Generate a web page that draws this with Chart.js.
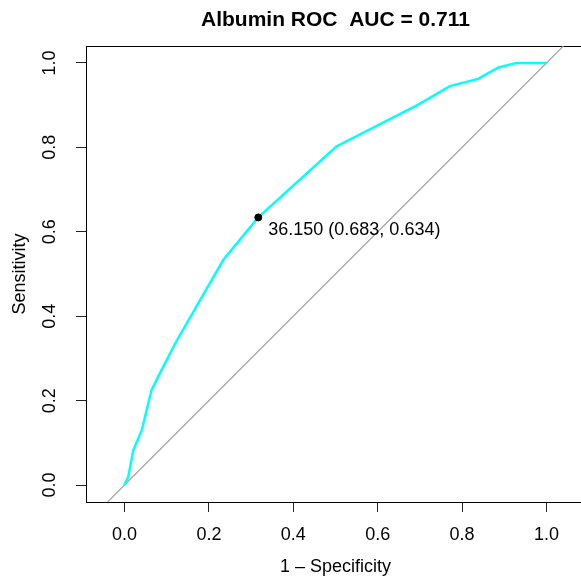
<!DOCTYPE html>
<html>
<head>
<meta charset="utf-8">
<script src="https://cdn.jsdelivr.net/npm/chart.js@4.4.1/dist/chart.umd.min.js"></script>
<style>
  html, body { margin: 0; padding: 0; background: #fff; overflow: hidden; }
  canvas { display: block; }
</style>
</head>
<body>
<!-- plot box runs past the right edge of the window, like the R device -->
<canvas id="roc" width="590" height="580"></canvas>
<script>
// ROC curve: x = 1 - specificity, y = sensitivity
const oneMinusSpec = [0, 0.009, 0.021, 0.041, 0.064, 0.088, 0.122, 0.234, 0.317, 0.502, 0.694, 0.771, 0.838, 0.886, 0.929, 1.0];
const sensitivity  = [0, 0.020, 0.083, 0.130, 0.225, 0.273, 0.339, 0.533, 0.634, 0.802, 0.900, 0.945, 0.962, 0.989, 1.0, 1.0];

// best threshold
const bestThreshold = 36.150;
const bestSpec = 0.683;
const bestSens = 0.634;

const auc = 0.711;
const diagonal = [-0.04, 1.04];
const xTicks = [0, 0.2, 0.4, 0.6, 0.8, 1.0];
const yTicks = [0, 0.2, 0.4, 0.6, 0.8, 1.0];

const FONT = '"Liberation Sans", Arial, Helvetica, sans-serif';

const rocPoints = oneMinusSpec.map((x, i) => ({ x: x, y: sensitivity[i] }));

const textPlugin = {
  id: 'rocText',
  afterDraw(chart) {
    const ctx = chart.ctx;
    const xs = chart.scales.x, ys = chart.scales.y;
    ctx.save();
    ctx.fillStyle = '#000';
    // main title, centred over the plot region like R does
    ctx.font = 'bold 21px ' + FONT;
    ctx.textAlign = 'center';
    ctx.textBaseline = 'middle';
    ctx.fillText('Albumin ROC  AUC = ' + auc.toFixed(3), xs.getPixelForValue(0.5), 20);
    // threshold label next to the point
    ctx.font = '18px ' + FONT;
    ctx.textAlign = 'left';
    const px = xs.getPixelForValue(1 - bestSpec);
    const py = ys.getPixelForValue(bestSens);
    ctx.fillText(bestThreshold.toFixed(3) + ' (' + bestSpec.toFixed(3) + ', ' + bestSens.toFixed(3) + ')', px + 10, py + 13);
    ctx.restore();
  }
};

new Chart(document.getElementById('roc'), {
  type: 'scatter',
  data: {
    datasets: [
      {
        data: [{ x: 1 - bestSpec, y: bestSens }],
        backgroundColor: '#000',
        borderColor: '#000',
        pointRadius: 3.5,
        order: 0
      },
      {
        data: rocPoints,
        showLine: true,
        borderColor: '#00ffff',
        borderWidth: 2.5,
        pointRadius: 0,
        order: 1
      },
      {
        data: diagonal.map(v => ({ x: v, y: v })),
        showLine: true,
        borderColor: '#a0a0a0',
        borderWidth: 1.2,
        pointRadius: 0,
        order: 2
      }
    ]
  },
  options: {
    responsive: false,
    animation: false,
    devicePixelRatio: 1,
    layout: { padding: { top: 46, left: 0, right: 0, bottom: 0 } },
    plugins: {
      legend: { display: false },
      tooltip: { enabled: false }
    },
    scales: {
      x: {
        type: 'linear',
        position: 'bottom',
        min: -0.0912,
        max: 1.0912,
        afterBuildTicks: s => { s.ticks = xTicks.map(v => ({ value: v })); },
        afterFit: s => { s.height = 78; s.paddingLeft = 0; s.paddingRight = 0; },
        ticks: {
          color: '#000',
          font: { family: FONT, size: 18 },
          padding: 12,
          maxRotation: 0,
          callback: v => v.toFixed(1)
        },
        grid: { drawOnChartArea: false, tickLength: 10, color: '#222' },
        border: { display: true, color: '#000', width: 1 },
        title: {
          display: true,
          text: '1 – Specificity',
          color: '#000',
          font: { family: FONT, size: 18 },
          padding: { top: 0, bottom: 2 }
        }
      },
      x2: {
        type: 'linear',
        position: 'top',
        min: -0.0912,
        max: 1.0912,
        afterFit: s => { s.height = 0; s.paddingLeft = 0; s.paddingRight = 0; },
        ticks: { display: false },
        grid: { display: false, drawTicks: false },
        border: { display: true, color: '#000', width: 1 }
      },
      y: {
        type: 'linear',
        min: -0.04,
        max: 1.04,
        afterBuildTicks: s => { s.ticks = yTicks.map(v => ({ value: v })); },
        afterFit: s => { s.width = 86; s.paddingTop = 0; s.paddingBottom = 0; },
        ticks: {
          color: '#000',
          font: { family: FONT, size: 18 },
          minRotation: 90,
          maxRotation: 90,
          crossAlign: 'center',
          padding: 13,
          callback: v => v.toFixed(1)
        },
        grid: { drawOnChartArea: false, tickLength: 10, color: '#222' },
        border: { display: true, color: '#000', width: 1 },
        title: {
          display: true,
          text: 'Sensitivity',
          color: '#000',
          font: { family: FONT, size: 18 },
          padding: { top: 9, bottom: 0 }
        }
      }
    }
  },
  plugins: [textPlugin]
});
</script>
</body>
</html>
